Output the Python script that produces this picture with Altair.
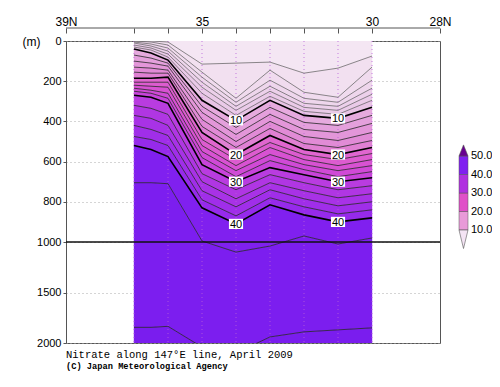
import altair as alt
import pandas as pd

# ---------------- data ----------------
lats = [37, 36.5, 36, 35, 34, 33, 32, 31, 30]
levels = [4, 5, 6, 7, 8, 9, 10, 12, 14, 16, 18, 20, 22, 24, 26, 28, 30, 32, 34, 36, 38, 40, 42, 44]
iso_04 = [0, 0, 5, 115, 110, 105, 160, 135, 75]
iso_05 = [0, 5, 20, 155, 285, 145, 255, 280, 130]
iso_06 = [5, 15, 35, 180, 305, 195, 285, 305, 195]
iso_07 = [10, 25, 50, 205, 325, 225, 310, 325, 235]
iso_08 = [20, 35, 65, 230, 345, 250, 330, 345, 265]
iso_09 = [30, 45, 80, 260, 370, 275, 350, 365, 295]
iso_10 = [40, 60, 95, 295, 395, 295, 370, 385, 330]
iso_12 = [70, 85, 110, 325, 430, 330, 405, 420, 370]
iso_14 = [100, 110, 125, 355, 465, 365, 440, 455, 410]
iso_16 = [130, 135, 145, 390, 500, 400, 475, 495, 455]
iso_18 = [155, 160, 160, 425, 530, 435, 510, 530, 495]
iso_20 = [185, 185, 180, 455, 565, 470, 540, 565, 530]
iso_22 = [205, 205, 205, 490, 590, 505, 565, 590, 560]
iso_24 = [220, 225, 230, 520, 620, 530, 590, 620, 590]
iso_26 = [235, 245, 260, 550, 645, 565, 615, 645, 620]
iso_28 = [250, 260, 285, 580, 675, 595, 640, 675, 650]
iso_30 = [270, 280, 310, 615, 700, 630, 665, 700, 680]
iso_32 = [320, 335, 365, 660, 740, 665, 705, 740, 720]
iso_34 = [370, 385, 420, 700, 785, 705, 745, 780, 760]
iso_36 = [420, 440, 470, 745, 825, 740, 785, 820, 800]
iso_38 = [475, 490, 520, 790, 870, 780, 825, 860, 840]
iso_40 = [520, 540, 575, 830, 910, 815, 865, 900, 880]
iso_42 = [705, 705, 710, 995, 1100, 1040, 970, 1020, 980]
iso_44 = [1845, 1845, 1835, 2040, 2100, 1940, 1890, 1870, 1850]
isolines = [iso_04, iso_05, iso_06, iso_07, iso_08, iso_09, iso_10, iso_12, iso_14,
            iso_16, iso_18, iso_20, iso_22, iso_24, iso_26, iso_28, iso_30, iso_32,
            iso_34, iso_36, iso_38, iso_40, iso_42, iso_44]

band_colors = ['#f4e6f3', '#f2e0f0', '#f0dbee', '#eed6ec', '#ecd0ea', '#eacae8', '#e8c3e5',
               '#e6aade', '#e4a0dc', '#e396d9', '#e18bd6', '#e080d3',
               '#e066cf', '#dd5ccf', '#d852d2', '#d04ad6', '#c843da',
               '#b93ce0', '#b036e3', '#a832e6', '#a02ee9', '#962aeb',
               '#8020ef', '#7c1eef', '#7a1dee']

stations = [37, 36, 35, 34, 33, 32, 31, 30]
label_lats = [34, 31]
label_levels = [10, 20, 30, 40]
x_ticks = [39, 38, 37, 36.5, 36, 35.5, 35, 34.5, 34, 33.5, 33, 32.5, 32, 31.5, 31, 30.5, 30, 29, 28]
y_ticks = [0, 200, 400, 600, 800, 1000, 1500, 2000]

cb_lo = [10, 20, 30, 40]
cb_hi = [20, 30, 40, 50]
cb_colors = ['#e89ad8', '#e050c8', '#b030e0', '#8020f0']
cb_low_color = '#f4e4f4'
cb_high_color = '#680090'
cb_labels = [10, 20, 30, 40, 50]

# ---------------- tables ----------------
band_rows = []
for b, col in enumerate(band_colors):
    top = [0] * len(lats) if b == 0 else isolines[b - 1]
    bot = isolines[b] if b < len(isolines) else [2000] * len(lats)
    for la, t, bo in zip(lats, top, bot):
        band_rows.append(dict(lat=la, top=t, bottom=bo, band=b, col=col))
bands = pd.DataFrame(band_rows)

line_rows = []
for lev, iso in zip(levels, isolines):
    for la, d in zip(lats, iso):
        line_rows.append(dict(lat=la, top=d, level=lev, thick=(lev % 10 == 0),
                              shallow=(lev < 10)))
lines = pd.DataFrame(line_rows)

lab_rows = []
for la in label_lats:
    for lev in label_levels:
        d = isolines[levels.index(lev)][lats.index(la)]
        lab_rows.append(dict(lat=la, top=d, text=str(lev)))
labels = pd.DataFrame(lab_rows)

xscale = alt.Scale(domain=[39, 28], nice=False, zero=False)
yscale = alt.Scale(domain=[0, 1000, 2000], range=[0, 201, 302], nice=False, zero=False)

label_expr = ("datum.value == 39 ? '39N' : datum.value == 35 ? '35' : "
              "datum.value == 30 ? '30' : datum.value == 28 ? '28N' : ''")

x_axis = alt.Axis(orient='top', values=x_ticks, labelExpr=label_expr, offset=8, tickSize=5,
                  domain=False, grid=False, labelFontSize=12, labelPadding=0, title=None,
                  labelFlush=False, labelOverlap=False, labelFont='Liberation Sans',
                  tickColor='#555', labelColor='black')
y_axis = alt.Axis(values=y_ticks, format='d', title='(m)', titleAngle=0, titleX=-44, titleY=0,
                  titleAlign='left', titleBaseline='middle', titleFont='Liberation Sans',
                  titleFontSize=12, titleFontWeight='normal', labelFontSize=11,
                  labelFont='Liberation Sans', tickSize=3, labelPadding=2, grid=True,
                  gridDash=[1, 3], gridColor='#aaaaaa', domainColor='#555', tickColor='#555',
                  labelColor='black')

base_x = alt.X('lat:Q', scale=xscale, axis=x_axis)

band_layer = alt.Chart(bands).mark_area(clip=True, strokeWidth=0.4).encode(
    x=base_x,
    y=alt.Y('top:Q', scale=yscale, axis=y_axis),
    y2='bottom:Q',
    color=alt.Color('col:N', scale=None),
    stroke=alt.Stroke('col:N', scale=None),
    detail='band:N',
)

station_layer = alt.Chart(pd.DataFrame({'lat': stations})).mark_rule(
    color='#b860d8', strokeDash=[1, 3], strokeWidth=1, opacity=0.8
).encode(x=alt.X('lat:Q', scale=xscale))

shallow_layer = alt.Chart(lines[lines.shallow]).mark_line(
    clip=True, color='#5a5a5a', strokeWidth=0.7
).encode(x=alt.X('lat:Q', scale=xscale), y=alt.Y('top:Q', scale=yscale), detail='level:N')

thin_layer = alt.Chart(lines[(~lines.thick) & (~lines.shallow)]).mark_line(
    clip=True, color='#262626', strokeWidth=0.8
).encode(x=alt.X('lat:Q', scale=xscale), y=alt.Y('top:Q', scale=yscale), detail='level:N')

thick_layer = alt.Chart(lines[lines.thick]).mark_line(
    clip=True, color='black', strokeWidth=1.6
).encode(x=alt.X('lat:Q', scale=xscale), y=alt.Y('top:Q', scale=yscale), detail='level:N')

rule_1000 = alt.Chart(pd.DataFrame({'top': [1000]})).mark_rule(
    color='#111', strokeWidth=1.5
).encode(y=alt.Y('top:Q', scale=yscale))

top_line = alt.Chart(pd.DataFrame({'lat': [39], 'lat2': [28]})).mark_rule(
    color='#555', strokeWidth=1
).encode(x=alt.X('lat:Q', scale=xscale), x2='lat2:Q', y=alt.value(-13))

box_layer = alt.Chart(labels).mark_point(
    shape='M-1,-0.72L1,-0.72L1,0.72L-1,0.72Z', filled=True, color='white', opacity=1,
    size=200
).encode(x=alt.X('lat:Q', scale=xscale), y=alt.Y('top:Q', scale=yscale))

text_layer = alt.Chart(labels).mark_text(
    fontSize=11, font='Liberation Sans', color='black', baseline='middle', align='center', dy=1
).encode(x=alt.X('lat:Q', scale=xscale), y=alt.Y('top:Q', scale=yscale), text='text:N')

main = alt.layer(band_layer, station_layer, shallow_layer, thin_layer, thick_layer, rule_1000,
                 top_line, box_layer, text_layer)

# ---------------- colour bar ----------------
cbx = alt.Scale(domain=[0, 1], range=[393, 402], nice=False, zero=False)
cby = alt.Scale(domain=[10, 50], range=[189, 115], nice=False, zero=False)

cb_rects = pd.DataFrame({'x0': [0] * 4, 'x1': [1] * 4, 'lo': cb_lo, 'hi': cb_hi, 'col': cb_colors})
rect_layer = alt.Chart(cb_rects).mark_rect(stroke='#555', strokeWidth=0.5).encode(
    x=alt.X('x0:Q', scale=cbx, axis=None), x2='x1:Q',
    y=alt.Y('lo:Q', scale=cby, axis=None), y2='hi:Q',
    color=alt.Color('col:N', scale=None),
)

tri = pd.DataFrame({
    'x0': [0, 0.5, 1, 0, 0.5, 1],
    'lo': [10, 0, 10, 50, 56, 50],
    'base': [10, 10, 10, 50, 50, 50],
    'tri': ['low'] * 3 + ['high'] * 3,
    'col': [cb_low_color] * 3 + [cb_high_color] * 3,
})
tri_layer = alt.Chart(tri).mark_area(stroke='#555', strokeWidth=0.6).encode(
    x=alt.X('x0:Q', scale=cbx, axis=None),
    y=alt.Y('lo:Q', scale=cby, axis=None), y2='base:Q',
    color=alt.Color('col:N', scale=None), detail='tri:N',
)

cb_text = pd.DataFrame({'x0': [1] * 5, 'lo': cb_labels,
                        'text': [f'{v:.1f}' for v in cb_labels]})
cb_text_layer = alt.Chart(cb_text).mark_text(
    align='left', baseline='middle', dx=3, fontSize=11, font='Liberation Sans', color='black'
).encode(
    x=alt.X('x0:Q', scale=cbx, axis=None),
    y=alt.Y('lo:Q', scale=cby, axis=None),
    text='text:N',
)

colorbar = alt.layer(rect_layer, tri_layer, cb_text_layer)

chart = alt.layer(main, colorbar).resolve_scale(
    x='independent', y='independent'
).properties(
    width=374, height=302,
    autosize=alt.AutoSizeParams(type='none'),
    padding={'left': 58, 'top': 33, 'right': 52, 'bottom': 36},
    title=alt.TitleParams(
        text='Nitrate along 147°E line, April 2009',
        subtitle='(C) Japan Meteorological Agency',
        orient='bottom', anchor='start', frame='group', offset=2,
        font='Liberation Mono', fontSize=10.5, fontWeight='normal', color='black',
        subtitleFont='Liberation Mono', subtitleFontSize=8.7, subtitleFontWeight='bold',
        subtitleColor='black', subtitlePadding=1,
    ),
    background='white',
).configure_view(stroke='#555', strokeWidth=1)

chart.save('out.html', embed_options={'renderer': 'svg', 'actions': False})
